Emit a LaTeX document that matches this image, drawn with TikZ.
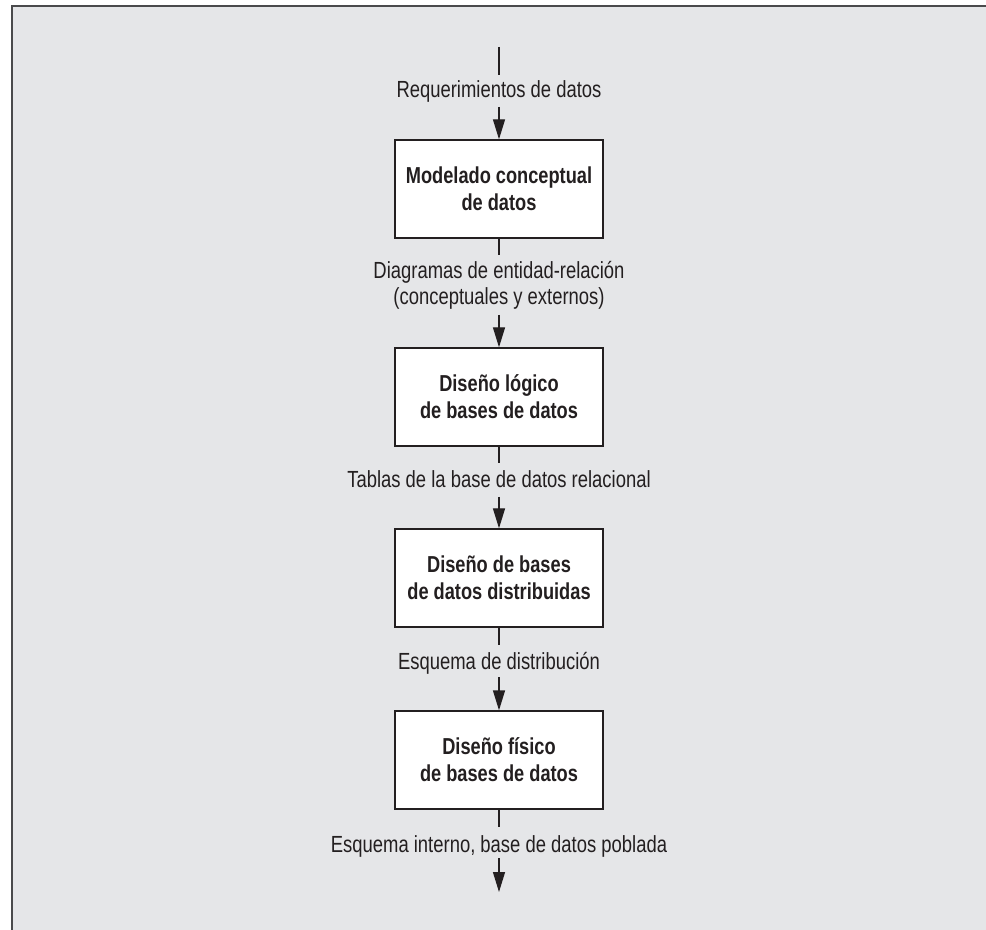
\documentclass[tikz,border=0pt]{standalone}
\usepackage{fontspec}
\setmainfont{Liberation Sans}[FakeStretch=0.79]
\usetikzlibrary{arrows.meta}
\definecolor{panel}{HTML}{E5E6E8}
\definecolor{ink}{HTML}{231F20}
\definecolor{rim}{HTML}{4A4A4C}
\begin{document}
\begin{tikzpicture}[x=0.75pt,y=-0.75pt,
  stage/.style={draw=ink, line width=1pt, fill=white,
    minimum width=156pt, minimum height=73.5pt, inner sep=0pt,
    align=center, text=ink, font=\fontsize{17.3}{20.25}\selectfont\bfseries},
  flowlabel/.style={anchor=base, inner sep=0pt, text=ink,
    font=\fontsize{17.5}{19.5}\selectfont},
  link/.style={draw=ink, line width=1pt},
  feed/.style={link, -{Triangle[length=15pt,width=9pt]}}]

% page and framed panel
\useasboundingbox (0,0) rectangle (986,930);
\fill[white] (0,0) rectangle (986,930);
\fill[panel] (12,6) rectangle (986,930);
\draw[rim, line width=1.5pt] (12,930) -- (12,6) -- (986,6);

% design stages
\node[stage] (concept) at (499,189) {Modelado conceptual\\de datos};
\node[stage] (logic)   at (499,397) {Diseño lógico\\de bases de datos};
\node[stage] (distrib) at (499,578) {Diseño de bases\\de datos distribuidas};
\node[stage] (phys)    at (499,760) {Diseño físico\\de bases de datos};

% products passed between stages
\node[flowlabel] (req)   at (499,98)  {Requerimientos de datos};
\node[flowlabel] (erA)   at (499,279) {Diagramas de entidad-relación};
\node[flowlabel] (erB)   at (499,305) {(conceptuales y externos)};
\node[flowlabel] (tabs)  at (499,488) {Tablas de la base de datos relacional};
\node[flowlabel] (dist)  at (499,669) {Esquema de distribución};
\node[flowlabel] (inner) at (499,852) {Esquema interno, base de datos poblada};

% connector ends
\coordinate (in0) at (499,47);
\coordinate (out0) at (499,75);
\coordinate (arr0) at (499,107);
\coordinate (out1) at (499,255);
\coordinate (arr1) at (499,315);
\coordinate (out2) at (499,463);
\coordinate (arr2) at (499,497);
\coordinate (out3) at (499,645);
\coordinate (arr3) at (499,677);
\coordinate (out4) at (499,827);
\coordinate (arr4) at (499,858);
\coordinate (done) at (499,892);

% flow
\draw[link] (in0) -- (out0);
\draw[feed] (arr0) -- (concept.north);
\draw[link] (concept.south) -- (out1);
\draw[feed] (arr1) -- (logic.north);
\draw[link] (logic.south) -- (out2);
\draw[feed] (arr2) -- (distrib.north);
\draw[link] (distrib.south) -- (out3);
\draw[feed] (arr3) -- (phys.north);
\draw[link] (phys.south) -- (out4);
\draw[feed] (arr4) -- (done);
\end{tikzpicture}
\end{document}
